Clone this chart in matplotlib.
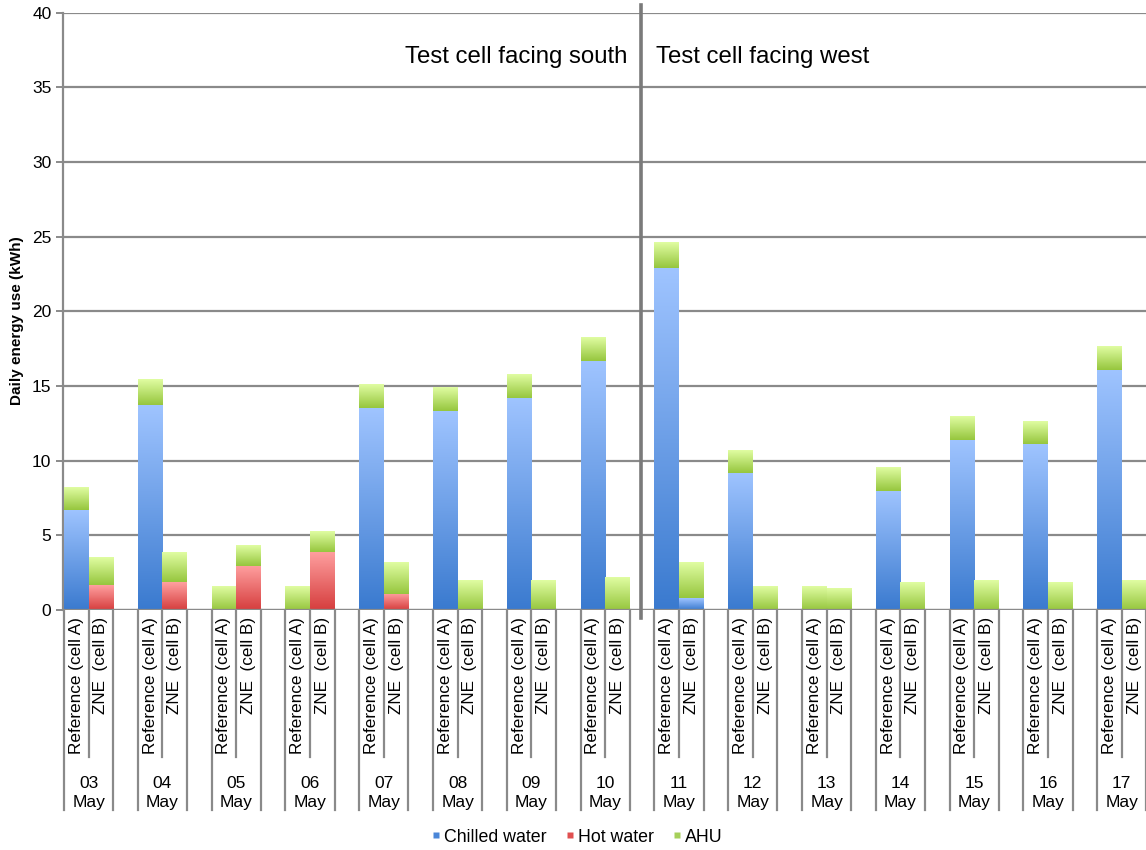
import numpy as np
import matplotlib
matplotlib.use("Agg")
import matplotlib.pyplot as plt
from matplotlib.colors import LinearSegmentedColormap
from matplotlib.lines import Line2D

plt.rcParams['font.family'] = ['Liberation Sans', 'DejaVu Sans']

# ---------------- data ----------------
days = ["03", "04", "05", "06", "07", "08", "09", "10",
        "11", "12", "13", "14", "15", "16", "17"]
month = "May"
cells = ["Reference (cell A)", "ZNE  (cell B)"]

# Reference (cell A)
ref_chilled = [6.7, 13.7, 0.0, 0.0, 13.5, 13.3, 14.2, 16.7,
               22.9, 9.2, 0.0, 8.0, 11.4, 11.1, 16.1]
ref_hot = [0.0] * 15
ref_ahu = [1.5, 1.7, 1.6, 1.6, 1.6, 1.6, 1.6, 1.6,
           1.7, 1.5, 1.6, 1.6, 1.6, 1.5, 1.6]

# ZNE (cell B)
zne_chilled = [0.0, 0.0, 0.0, 0.0, 0.0, 0.0, 0.0, 0.0,
               0.8, 0.0, 0.0, 0.0, 0.0, 0.0, 0.0]
zne_hot = [1.65, 1.85, 2.95, 3.9, 1.1, 0.0, 0.0, 0.0,
           0.0, 0.0, 0.0, 0.0, 0.0, 0.0, 0.0]
zne_ahu = [1.85, 1.95, 1.4, 1.4, 2.1, 1.95, 2.0, 2.15,
           2.4, 1.6, 1.45, 1.85, 1.95, 1.85, 2.0]

series_names = ["Chilled water", "Hot water", "AHU"]
yticks = [0, 5, 10, 15, 20, 25, 30, 35, 40]
label_south = "Test cell facing south"
label_west = "Test cell facing west"

# ---------------- style ----------------
grad_colors = {
    "Chilled water": ("#3a7acf", "#9fc4ff"),
    "Hot water": ("#d63e3e", "#ffa0a0"),
    "AHU": ("#96c63e", "#e0fda2"),
}
legend_colors = {"Chilled water": "#4a86d8", "Hot water": "#e05050", "AHU": "#a6d05a"}
grey = "#8a8a8a"

W, H = 1146, 850
fig = plt.figure(figsize=(W / 100, H / 100), dpi=100)
ax_left_px, ax_top_px, ax_bot_px = 62.5, 12.7, 610.0
ax = fig.add_axes([ax_left_px / W, 1 - ax_bot_px / H,
                   1 - ax_left_px / W, (ax_bot_px - ax_top_px) / H])

grad = np.linspace(0, 1, 128).reshape(-1, 1)
cmaps = {k: LinearSegmentedColormap.from_list(k, list(v)) for k, v in grad_colors.items()}


def draw_stack(x0, vals):
    bottom = 0.0
    for name, v in zip(series_names, vals):
        if v > 0:
            ax.imshow(grad, extent=[x0, x0 + 1, bottom, bottom + v], origin="lower",
                      cmap=cmaps[name], aspect="auto", zorder=3, interpolation="bilinear")
            bottom += v


for i in range(len(days)):
    draw_stack(3 * i, [ref_chilled[i], ref_hot[i], ref_ahu[i]])
    draw_stack(3 * i + 1, [zne_chilled[i], zne_hot[i], zne_ahu[i]])

slot_px = 24.6
x_min = -(64 - ax_left_px) / slot_px
x_max = x_min + (W - ax_left_px) / slot_px
ax.set_xlim(x_min, x_max)
ax.set_ylim(0, 40)
px_per_unit = (ax_bot_px - ax_top_px) / 40.0

# grid & axes
ax.set_yticks(yticks)
ax.yaxis.grid(True, color=grey, linewidth=1.6, zorder=1)
ax.set_axisbelow(True)
ax.set_xticks([])
for s in ["top", "right", "bottom"]:
    ax.spines[s].set_visible(False)
ax.spines["left"].set_color(grey)
ax.spines["left"].set_linewidth(1.6)
ax.axhline(0, color=grey, linewidth=1.6, zorder=4)
ax.tick_params(axis="y", colors=grey, length=5, width=1.4, labelsize=12.5,
               labelcolor="black", pad=3)
ax.set_ylabel("Daily energy use (kWh)", fontsize=11, fontweight="bold")
ax.yaxis.set_label_coords(-0.0355, 0.485)


def ypx(px):
    return -(px - ax_bot_px) / px_per_unit


# category axis (multi-level)
for i, d in enumerate(days):
    xl, xm, xr = 3 * i, 3 * i + 1, 3 * i + 2
    ax.plot([xl, xl], [0, ypx(810)], color=grey, lw=1.6, clip_on=False, zorder=4)
    ax.plot([xr, xr], [0, ypx(810)], color=grey, lw=1.6, clip_on=False, zorder=4)
    ax.plot([xm, xm], [0, ypx(757)], color=grey, lw=1.6, clip_on=False, zorder=4)
    ax.text(xl + 0.5, ypx(617), cells[0], rotation=90, ha="center", va="top",
            fontsize=12.3, clip_on=False)
    ax.text(xm + 0.5, ypx(617), cells[1], rotation=90, ha="center", va="top",
            fontsize=12.3, clip_on=False)
    ax.text(xm, ypx(793), f"{d}\n{month}", ha="center", va="center",
            fontsize=12.5, linespacing=1.25, clip_on=False)

# divider and annotations
xdiv = (641 - 64) / slot_px
ax.plot([xdiv, xdiv], [ypx(5), ypx(618)], color="#7a7a7a", lw=2.6, clip_on=False, zorder=5)
ax.text((627 - 64) / slot_px, ypx(57), label_south, ha="right", va="center", fontsize=17.3)
ax.text((656 - 64) / slot_px, ypx(57), label_west, ha="left", va="center", fontsize=17.3)

# legend
handles = [Line2D([], [], marker="s", linestyle="none", markersize=5,
                  markerfacecolor=legend_colors[n], markeredgecolor="none") for n in series_names]
fig.legend(handles, series_names, loc="center", bbox_to_anchor=(0.503, 1 - 837 / H),
           ncol=3, frameon=False, fontsize=12.8, handlelength=0.6, handletextpad=0.15,
           columnspacing=1.0)

fig.savefig("out.png", dpi=100)
